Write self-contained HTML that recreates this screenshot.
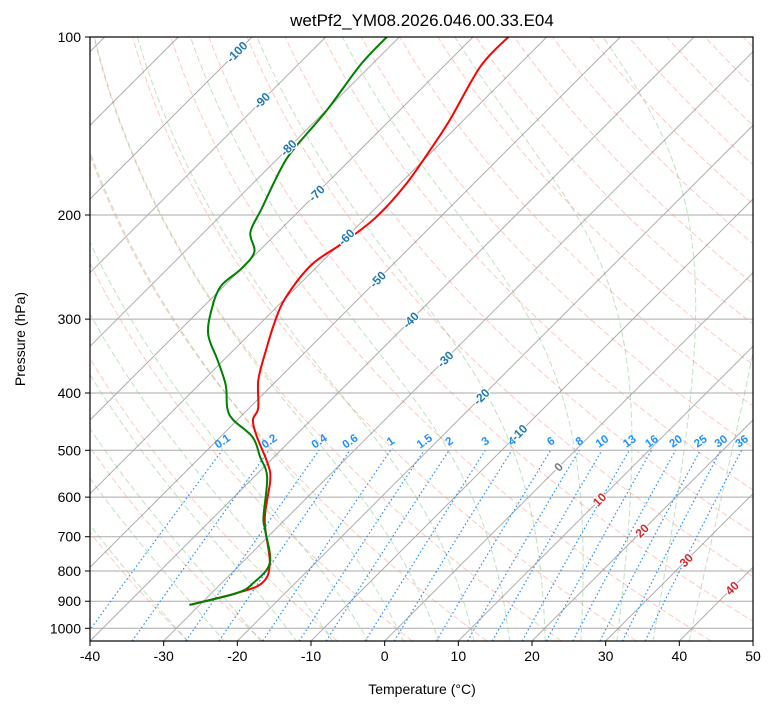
<!DOCTYPE html>
<html><head><meta charset="utf-8"><style>
body{margin:0;background:#fff;font-family:"Liberation Sans",sans-serif}
svg text{font-family:"Liberation Sans",sans-serif}
</style></head><body>
<svg id="c" width="775" height="708" xmlns="http://www.w3.org/2000/svg">
<defs><clipPath id="clip"><rect x="90" y="37" width="663" height="604"/></clipPath></defs>
<rect width="775" height="708" fill="#fff"/>
<text x="422" y="26" font-size="17" text-anchor="middle">wetPf2_YM08.2026.046.00.33.E04</text>
<g id="bg" clip-path="url(#clip)"></g>
<g id="prof" clip-path="url(#clip)"></g>
<g id="lbl"></g>
<rect x="90" y="37" width="663" height="604" fill="none" stroke="#000" stroke-width="1.2"/>
<g id="ax"></g>
<text x="422" y="694" font-size="14" text-anchor="middle">Temperature (°C)</text>
<text transform="translate(25,339) rotate(-90)" font-size="14" text-anchor="middle">Pressure (hPa)</text>
</svg>
<script>
const pressure=[913,872,838,775,656,561,525,473,444,424,380,337,305,277,243,223,202,178,155,138,112,100];
const temperature=[-31.4,-26.6,-24.5,-26.2,-32.7,-37.4,-40.1,-45.2,-47.9,-48.8,-52.6,-55.7,-58.1,-60.0,-61.0,-59.7,-58.7,-59.1,-60.5,-61.9,-65.0,-65.2];
const dewPressure=[913,872,838,775,682,648,555,513,475,444,424,388,352,319,290,264,247,231,214,195,168,155,133,111.5,100];
const dewpoint=[-31.4,-26.6,-25.7,-26.2,-31.3,-33.3,-38.2,-41.9,-45.6,-50.6,-53.0,-56.3,-60.8,-65.5,-68.4,-70.4,-70.0,-70.5,-73.7,-75.4,-78.1,-79.1,-79.9,-81.5,-81.7];
const xTicks=[-40,-30,-20,-10,0,10,20,30,40,50];
const yTicks=[100,200,300,400,500,600,700,800,900,1000];
const mixRatios=[0.1,0.2,0.4,0.6,1,1.5,2,3,4,6,8,10,13,16,20,25,30,36];
const isoLabels=[-100,-90,-80,-70,-60,-50,-40,-30,-20,-10,0,10,20,30,40];

const NS="http://www.w3.org/2000/svg";
const X0=90,X1=753,Y0=37,Y1=641,K=256.8,PPD=663/90;
const yP=p=>Y0+K*Math.log(p/100);
const xT=(T,p)=>X0+(T+40)*PPD+(Y1-yP(p));
const PB=100*Math.exp((Y1-Y0)/K);
function el(tag,attrs,parent){const e=document.createElementNS(NS,tag);for(const k in attrs)e.setAttribute(k,attrs[k]);parent.appendChild(e);return e;}
function path(pts){return pts.map((q,i)=>(i?'L':'M')+q[0].toFixed(1)+' '+q[1].toFixed(1)).join(' ');}
const bg=document.getElementById('bg'),prof=document.getElementById('prof'),lbl=document.getElementById('lbl'),ax=document.getElementById('ax');
const plevs=[];for(let p=PB;p>=99;p-=5)plevs.push(p);plevs.push(100);
for(let th=243;th<=473;th+=10){const pts=plevs.map(p=>[xT(th*Math.pow(p/1000,0.2857)-273.15,p),yP(p)]);
const e=el('path',{d:path(pts),fill:'none',stroke:'#ff6347','stroke-opacity':0.35,'stroke-width':1,'stroke-dasharray':'6,3'},bg);
}
function es(T){return 6.112*Math.exp(17.67*T/(T+243.5));}
function dTdp(T,p){const Tk=T+273.15,e=es(T),rs=0.622*e/(p-e),Rd=287,Lv=2.5e6,Cp=1005;
return (1/p)*(Rd*Tk+Lv*rs)/(Cp+Lv*Lv*rs*0.622/(Rd*Tk*Tk));}
for(let t0=-30;t0<=40;t0+=5){let pts=[];let T=t0,p=1000;
for(;p>100;p-=5){pts.push([xT(T,p),yP(p)]);const k1=dTdp(T,p),k2=dTdp(T-2.5*k1,p-2.5);T-=5*k2;}pts.push([xT(T,100),yP(100)]);
T=t0;p=1000;const dn=[];for(;p<PB;p+=5){dn.push([xT(T,p),yP(p)]);T+=5*dTdp(T,p);}dn.push([xT(T,PB),yP(PB)]);
pts=dn.reverse().concat(pts);
const e=el('path',{d:path(pts),fill:'none',stroke:'#2ca02c','stroke-opacity':0.3,'stroke-width':1,'stroke-dasharray':'6,3'},bg);
}
for(let T=-140;T<=50;T+=10){const e=el('line',{x1:xT(T,PB),y1:Y1,x2:xT(T,100),y2:Y0,stroke:'#777','stroke-opacity':0.6,'stroke-width':1},bg);
}
yTicks.forEach(p=>{const e=el('line',{x1:X0,x2:X1,y1:yP(p),y2:yP(p),stroke:'#aaa','stroke-width':1},bg);
});
function tdw(w,p){const e=p*w/(622+w),l=Math.log(e/6.112);return 243.5*l/(17.67-l);}
mixRatios.forEach(w=>{const pts=[];for(let p=PB;p>=500;p-=10)pts.push([xT(tdw(w,p),p),yP(p)]);pts.push([xT(tdw(w,500),500),yP(500)]);
const e=el('path',{d:path(pts),fill:'none',stroke:'#1e90ff','stroke-width':1.2,'stroke-dasharray':'1.5,2.5'},bg);

const x=xT(tdw(w,500),500),y=441;
const t=el('text',{x:x,y:y+4,'font-size':11.5,'font-weight':'bold',fill:'#1e90ff','text-anchor':'middle',transform:`rotate(-35 ${x} ${y})`},lbl);
t.textContent=w;});
isoLabels.forEach((T,i)=>{const y=52+49.5*i-0.8*i*i;const p=100*Math.exp((y-Y0)/K);const x=xT(T,p);
const col=T<0?'#1f77b4':(T==0?'#777':'#d62728');
const t=el('text',{x:x,y:y+4,'font-size':12,'font-weight':'bold',fill:col,'text-anchor':'middle',transform:`rotate(-45 ${x} ${y})`,stroke:'#fff','stroke-width':2.5,'paint-order':'stroke'},lbl);
t.textContent=T;});
function smooth(ps,vs){const pts=ps.map((p,i)=>[xT(vs[i],p),yP(p)]);let d='M'+pts[0][0]+' '+pts[0][1];
for(let i=0;i<pts.length-1;i++){const p0=pts[Math.max(0,i-1)],p1=pts[i],p2=pts[i+1],p3=pts[Math.min(pts.length-1,i+2)];
d+=` C${p1[0]+(p2[0]-p0[0])/6} ${p1[1]+(p2[1]-p0[1])/6} ${p2[0]-(p3[0]-p1[0])/6} ${p2[1]-(p3[1]-p1[1])/6} ${p2[0]} ${p2[1]}`;}return d;}
const tl=el('path',{d:smooth(pressure,temperature),fill:'none',stroke:'#ff0000','stroke-width':2},prof);

const dl=el('path',{d:smooth(dewPressure,dewpoint),fill:'none',stroke:'#008000','stroke-width':2},prof);

xTicks.forEach(T=>{const x=X0+(T+40)*PPD;el('line',{x1:x,x2:x,y1:Y1,y2:Y1+5,stroke:'#000'},ax);
const t=el('text',{x:x,y:Y1+20,'font-size':14,'text-anchor':'middle'},ax);t.textContent=T;
});
yTicks.forEach(p=>{const y=yP(p);el('line',{x1:X0-5,x2:X0,y1:y,y2:y,stroke:'#000'},ax);
const t=el('text',{x:X0-9,y:y+5,'font-size':14,'text-anchor':'end'},ax);t.textContent=p;
});
</script>
</body></html>
